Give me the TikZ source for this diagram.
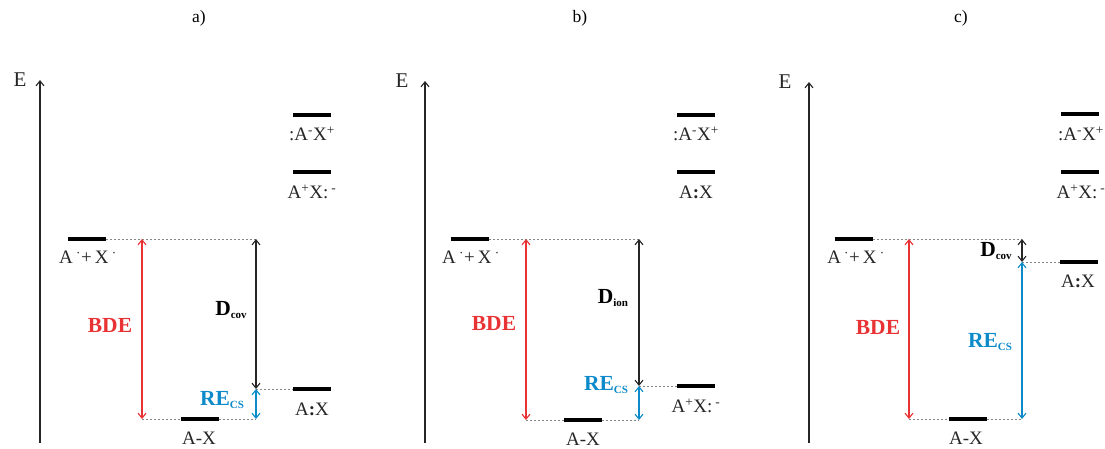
\documentclass[tikz,border=0pt]{standalone}
\usepackage{fontspec}
\setmainfont{Liberation Serif}
\usetikzlibrary{arrows.meta}
\definecolor{bred}{RGB}{232,50,52}
\definecolor{bblue}{RGB}{12,138,202}
\definecolor{dgray}{RGB}{135,135,135}
\tikzset{
  lvl/.style={fill=black, draw=none, minimum width=38pt, minimum height=3.8pt, inner sep=0pt, outer sep=0pt},
  lab/.style={font=\fontsize{19}{19}\selectfont, inner sep=0pt, text=black!85},
  ttl/.style={font=\fontsize{17.5}{17.5}\selectfont, inner sep=0pt},
  elab/.style={font=\fontsize{21}{21}\selectfont, inner sep=0pt, text=black!85},
  big/.style={font=\fontsize{21.5}{21.5}\selectfont\bfseries, inner sep=0pt},
  dsh/.style={dgray, line width=0.7pt, dash pattern=on 2pt off 2pt},
  arr/.style={line width=1.1pt, {Straight Barb[length=5pt,width=8pt]}-{Straight Barb[length=5pt,width=8pt]}},
  axis/.style={line width=1.1pt, black!85, -{Straight Barb[length=5pt,width=8pt]}}
}
\newcommand{\sub}[1]{{\fontsize{11}{11}\selectfont\bfseries\raisebox{-2.5pt}{#1}}}
\newcommand{\radAX}{A\,\textsuperscript{·}+\,X\,\textsuperscript{·}}
\newcommand{\ionA}{:A\textsuperscript{-}X\textsuperscript{+}}
\newcommand{\ionX}{A\textsuperscript{+}X:\,\textsuperscript{-}}
\newcommand{\covAX}{A\textbf{:}X}
\begin{document}
\begin{tikzpicture}[x=1pt,y=-1pt]
\useasboundingbox (0,0) rectangle (1105,448);
% ---------------- panel a ----------------
\node[ttl] (ta) at (199,18) {a)};
\coordinate (axa0) at (40,443);
\coordinate (axa1) at (40,80);
\draw[axis] (axa0) -- (axa1);
\node[elab] (ea) at (20,80) {E};
\node[lvl] (a1) at (312,115) {};
\node[lab] (la1) at (312,134) {\ionA};
\node[lvl] (a2) at (312,172) {};
\node[lab] (la2) at (312,192) {\ionX};
\node[lvl] (a3) at (86.5,239) {};
\node[lab] (la3) at (88,257) {\radAX};
\node[lvl] (a4) at (312,389) {};
\node[lab] (la4) at (312,409) {\covAX};
\node[lvl] (a5) at (199.5,419) {};
\node[lab] (la5) at (199,438) {A-X};
\coordinate (aBt) at (142,239);
\coordinate (aBb) at (142,419);
\coordinate (aDt) at (256,239);
\coordinate (aDb) at (256,389);
\coordinate (aRb) at (256,419);
\draw[dsh] (a3.east) -- (aDt);
\draw[dsh] (aBb) -- (a5.west);
\draw[dsh] (a5.east) -- (aRb);
\draw[dsh] (aDb) -- (a4.west);
\draw[arr, bred] (aBt) -- (aBb);
\draw[arr, black!85] (aDt) -- (aDb);
\draw[arr, bblue] (aDb) -- (aRb);
\node[big, text=bred] (bdea) at (110,325) {BDE};
\node[big, text=black] (dca) at (231,310) {D\sub{cov}};
\node[big, text=bblue] (rea) at (222,400) {RE\sub{CS}};
% ---------------- panel b ----------------
\node[ttl] (tb) at (580,18) {b)};
\coordinate (axb0) at (425,443);
\coordinate (axb1) at (425,81);
\draw[axis] (axb0) -- (axb1);
\node[elab] (eb) at (402,81) {E};
\node[lvl] (b1) at (695.5,115) {};
\node[lab] (lb1) at (696,134) {\ionA};
\node[lvl] (b2) at (695.5,172) {};
\node[lab] (lb2) at (696,192) {\covAX};
\node[lvl] (b3) at (470,239) {};
\node[lab] (lb3) at (471,257) {\radAX};
\node[lvl] (b4) at (695.5,386) {};
\node[lab] (lb4) at (696,406) {\ionX};
\node[lvl] (b5) at (582.5,420) {};
\node[lab] (lb5) at (583,439) {A-X};
\coordinate (bBt) at (526,239);
\coordinate (bBb) at (526,420);
\coordinate (bDt) at (639,239);
\coordinate (bDb) at (639,386);
\coordinate (bRb) at (639,420);
\draw[dsh] (b3.east) -- (bDt);
\draw[dsh] (bBb) -- (b5.west);
\draw[dsh] (b5.east) -- (bRb);
\draw[dsh] (bDb) -- (b4.west);
\draw[arr, bred] (bBt) -- (bBb);
\draw[arr, black!85] (bDt) -- (bDb);
\draw[arr, bblue] (bDb) -- (bRb);
\node[big, text=bred] (bdeb) at (494,323) {BDE};
\node[big, text=black] (dib) at (613,298) {D\sub{ion}};
\node[big, text=bblue] (reb) at (606,385) {RE\sub{CS}};
% ---------------- panel c ----------------
\node[ttl] (tc) at (961,18) {c)};
\coordinate (axc0) at (809,443);
\coordinate (axc1) at (809,82);
\draw[axis] (axc0) -- (axc1);
\node[elab] (ec) at (785,82) {E};
\node[lvl] (c1) at (1079.5,114) {};
\node[lab] (lc1) at (1081,134) {\ionA};
\node[lvl] (c2) at (1079.5,172) {};
\node[lab] (lc2) at (1081,192) {\ionX};
\node[lvl] (c3) at (853.5,239) {};
\node[lab] (lc3) at (856,257) {\radAX};
\node[lvl] (c4) at (1079,262) {};
\node[lab] (lc4) at (1078,281) {\covAX};
\node[lvl] (c5) at (967.5,419) {};
\node[lab] (lc5) at (966,438) {A-X};
\coordinate (cBt) at (909,239);
\coordinate (cBb) at (909,419);
\coordinate (cDt) at (1022,239);
\coordinate (cDb) at (1022,262);
\coordinate (cRb) at (1022,419);
\draw[dsh] (c3.east) -- (cDt);
\draw[dsh] (cBb) -- (c5.west);
\draw[dsh] (c5.east) -- (cRb);
\draw[dsh] (cDb) -- (c4.west);
\draw[arr, bred] (cBt) -- (cBb);
\draw[arr, black!85] (cDt) -- (cDb);
\draw[arr, bblue] (cDb) -- (cRb);
\node[big, text=bred] (bdec) at (878,327) {BDE};
\node[big, text=black] (dcc) at (996,251) {D\sub{cov}};
\node[big, text=bblue] (rec) at (990,342) {RE\sub{CS}};
\end{tikzpicture}
\end{document}
